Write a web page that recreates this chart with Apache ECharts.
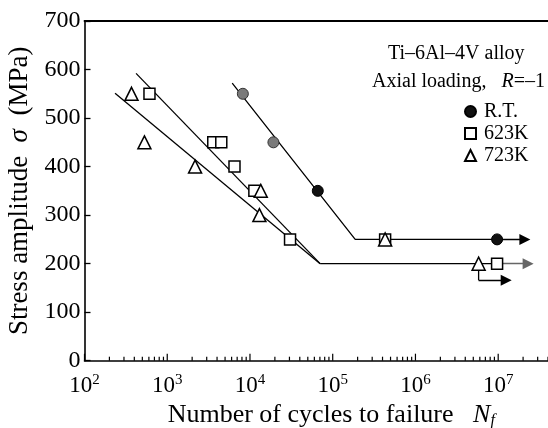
<!DOCTYPE html>
<html>
<head>
<meta charset="utf-8">
<script src="https://cdn.jsdelivr.net/npm/echarts@6/dist/echarts.min.js"></script>
<style>
html,body{margin:0;padding:0;background:#fff;}
#chart{width:548px;height:428px;}
</style>
</head>
<body>
<div id="chart"></div>
<script>
// ---- data ----
const rtN   = [8200, 19200, 66000, 9.7e6];
const rtS   = [550, 450, 350, 250];
const k623N = [610, 3600, 4500, 6500, 11300, 30500, 4.3e5, 9.7e6];
const k623S = [550, 450, 450, 400, 350, 250, 250, 200];
const k723N = [370, 530, 2170, 13500, 13000, 4.3e5, 5.8e6];
const k723S = [550, 450, 400, 350, 300, 250, 200];

// fitted S-N lines
const rtFitN   = [6100, 1.87e5, 9.7e6];
const rtFitS   = [572, 250, 250];
const fit623N  = [420, 7.05e4];
const fit623S  = [592, 200];
const fit723N  = [234, 7.05e4];
const fit723S  = [551, 200];
const limitN   = [7.05e4, 9.7e6];
const limitS   = [200, 200];

// run-out arrows
const rtArrowN   = [9.7e6, 2.1e7];
const rtArrowS   = [250, 250];
const k623ArrowN = [9.7e6, 2.3e7];
const k623ArrowS = [200, 200];
const k723DropN  = [5.8e6, 5.8e6];
const k723DropS  = [200, 166];
const k723ArrowN = [5.8e6, 1.25e7];
const k723ArrowS = [166, 166];

const yTicks = [0, 100, 200, 300, 400, 500, 600, 700];
const xDecades = [2, 3, 4, 5, 6, 7];

// ---- helpers ----
const zip = (a, b) => a.map((v, i) => [v, b[i]]);
const FONT = '"Liberation Serif", "Times New Roman", serif';

const majorTicks = [];
const minorTicks = [];
xDecades.forEach(d => {
  majorTicks.push([Math.pow(10, d)]);
  for (let m = 2; m <= 9; m++) {
    const v = m * Math.pow(10, d);
    if (v <= 4e7) minorTicks.push([v]);
  }
});

function tickSeries(data, len) {
  return {
    type: 'custom', xAxisIndex: 0, yAxisIndex: 0, silent: true, z: 5,
    data: data, encode: { x: 0 },
    renderItem: function (params, api) {
      const p = api.coord([api.value(0), 0]);
      return { type: 'line', shape: { x1: p[0], y1: p[1], x2: p[0], y2: p[1] - len },
               style: { stroke: '#000', lineWidth: 1.2 } };
    }
  };
}

function fitLine(n, s) {
  return { type: 'line', data: zip(n, s), symbol: 'none', silent: true, z: 3,
           lineStyle: { color: '#000', width: 1.3 } };
}
function arrow(n, s, color) {
  return { type: 'lines', coordinateSystem: 'cartesian2d', silent: true, z: 3,
           symbol: ['none', 'triangle'], symbolSize: 11,
           itemStyle: { color: color },
           lineStyle: { color: color, width: 1.3, opacity: 1, curveness: 0 },
           data: [{ coords: zip(n, s) }] };
}

const chart = echarts.init(document.getElementById('chart'), null, { renderer: 'canvas' });

const option = {
  backgroundColor: '#fff',
  animation: false,
  textStyle: { fontFamily: FONT },
  grid: { left: 84.5, right: 0, top: 21, bottom: 67.3, containLabel: false, outerBoundsMode: 'none' },
  legend: {
    orient: 'vertical', left: 459, top: 96, itemGap: 1,
    itemWidth: 11, itemHeight: 11,
    textStyle: { fontFamily: FONT, fontSize: 20, color: '#000', lineHeight: 21, padding: [0, 0, 0, 3] },
    data: [
      { name: 'R.T.', icon: 'circle' },
      { name: '623K', icon: 'rect' },
      { name: '723K', icon: 'triangle' }
    ]
  },
  xAxis: [{
    type: 'log', logBase: 10, min: 100, max: 4e7,
    position: 'bottom',
    axisLine: { show: true, onZero: false, lineStyle: { color: '#000', width: 1.6 } },
    axisTick: { show: false },
    splitLine: { show: false },
    axisLabel: {
      margin: 12, showMaxLabel: false, color: '#000',
      formatter: function (v) {
        const e = Math.round(Math.log10(v));
        if (Math.abs(v - Math.pow(10, e)) / v > 1e-6) return '';
        return '{b|10}{s|' + e + '}';
      },
      rich: {
        b: { fontFamily: FONT, fontSize: 23, lineHeight: 26, color: '#000' },
        s: { fontFamily: FONT, fontSize: 15, lineHeight: 15, verticalAlign: 'top', color: '#000' }
      }
    },
    name: '{n|Number of cycles to failure   }{i|N}{f|f}',
    nameLocation: 'middle', nameGap: 40,
    nameTextStyle: {
      padding: [0, 0, 0, 30],
      rich: {
        n: { fontFamily: FONT, fontSize: 26, lineHeight: 28, color: '#000' },
        i: { fontFamily: FONT, fontSize: 26, lineHeight: 28, fontStyle: 'italic', color: '#000' },
        f: { fontFamily: FONT, fontSize: 16, lineHeight: 16, verticalAlign: 'bottom', fontStyle: 'italic', color: '#000' }
      }
    }
  }, {
    type: 'log', logBase: 10, min: 100, max: 4e7, position: 'top',
    axisLine: { show: true, onZero: false, lineStyle: { color: '#000', width: 1.8 } },
    axisTick: { show: false }, axisLabel: { show: false }, splitLine: { show: false }
  }],
  yAxis: {
    type: 'value', min: 0, max: 700, interval: 100,
    axisLine: { show: true, onZero: false, lineStyle: { color: '#000', width: 1.6 } },
    axisTick: { show: true, inside: true, length: 6, lineStyle: { color: '#000', width: 1.3 } },
    splitLine: { show: false },
    axisLabel: { margin: 4, color: '#000', fontFamily: FONT, fontSize: 24,
                 customValues: yTicks },
    name: 'Stress amplitude  {i|σ}  (MPa)',
    nameLocation: 'middle', nameGap: 50, nameRotate: 90,
    nameTextStyle: { fontFamily: FONT, fontSize: 27, color: '#000',
      rich: { i: { fontFamily: FONT, fontSize: 27, fontStyle: 'italic', color: '#000' } } }
  },
  graphic: [
    { type: 'text', left: 388, top: 44, z: 10,
      style: { text: 'Ti–6Al–4V alloy', font: '20px ' + FONT, fill: '#000' } },
    { type: 'text', left: 372, top: 72, z: 10,
      style: { text: 'Axial loading,   {i|R}=–1', font: '20px ' + FONT, fill: '#000',
               rich: { i: { font: 'italic 20px ' + FONT, fill: '#000' } } } }
  ],
  series: [
    tickSeries(majorTicks, 7),
    tickSeries(minorTicks, 4),
    fitLine(rtFitN, rtFitS),
    fitLine(fit623N, fit623S),
    fitLine(fit723N, fit723S),
    fitLine(limitN, limitS),
    fitLine(k723DropN, k723DropS),
    arrow(rtArrowN, rtArrowS, '#000'),
    arrow(k623ArrowN, k623ArrowS, '#666'),
    arrow(k723ArrowN, k723ArrowS, '#000'),
    {
      name: 'R.T.', type: 'scatter', symbol: 'circle', symbolSize: 11, z: 6,
      itemStyle: { color: '#111', borderColor: '#000', borderWidth: 1, opacity: 1 },
      data: zip(rtN, rtS).map((p, i) => i < 2
        ? { value: p, itemStyle: { color: '#7a7a7a', borderColor: '#333' } }
        : { value: p })
    },
    {
      name: '623K', type: 'scatter', symbol: 'rect', symbolSize: 11, z: 6,
      itemStyle: { color: '#fff', borderColor: '#000', borderWidth: 1.5, opacity: 1 },
      data: zip(k623N, k623S)
    },
    {
      name: '723K', type: 'scatter', symbol: 'triangle', symbolSize: 13, z: 7,
      itemStyle: { color: '#fff', borderColor: '#000', borderWidth: 1.5, opacity: 1 },
      data: zip(k723N, k723S)
    }
  ]
};
chart.setOption(option);
</script>
</body>
</html>
